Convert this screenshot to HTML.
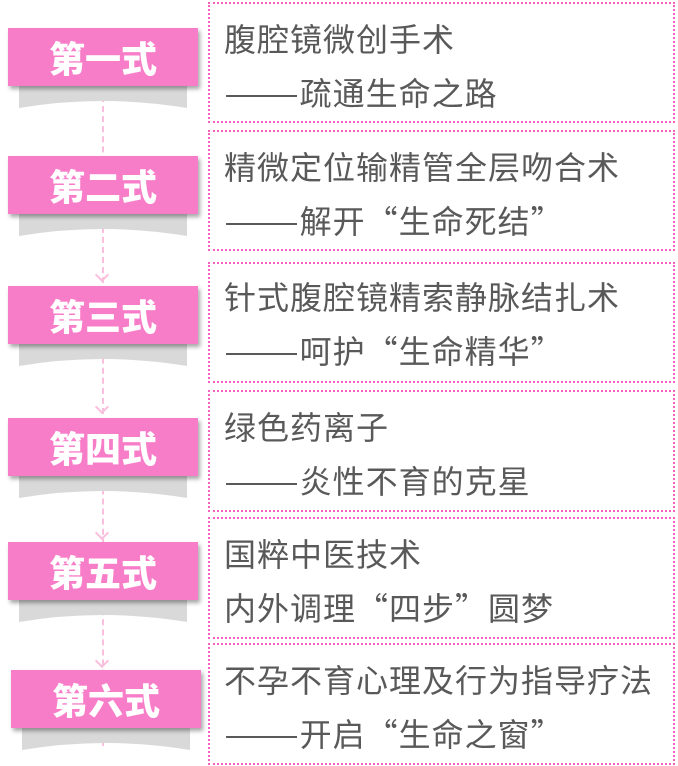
<!DOCTYPE html>
<html><head><meta charset="utf-8"><style>
body{margin:0;width:678px;height:766px;background:#fff;position:relative;overflow:hidden;font-family:"Liberation Sans","Noto Sans CJK SC",sans-serif}
.box{position:absolute;left:208px;width:467px;border:2px dotted #f55fc0;box-sizing:border-box}
.box div{position:absolute;left:14px;font-size:32px;color:#595959;white-space:nowrap;line-height:36px;font-family:"WenQuanYi Zen Hei","Noto Sans CJK SC",sans-serif;letter-spacing:1px}
.d{display:inline-block;transform:scaleX(1.4);transform-origin:left;margin-right:21px}
.lab{position:absolute;width:190px;height:58px;background:#f87dc8;box-shadow:2px 3px 4px rgba(0,0,0,.35);color:#fff;font-weight:900;font-size:36px;text-align:center;line-height:58px;z-index:2;font-family:"Noto Sans CJK SC",sans-serif}
.rib{position:absolute;width:168px;height:22px;background:#d9d9d9;clip-path:path('M0 0 H168 V22 Q84 8 0 22 Z');z-index:1}
.line{position:absolute;left:102px;width:0;border-left:2px dashed #f9bfdd;z-index:0}
.arr{position:absolute;left:97px;width:8px;height:8px;border-right:2px solid #f9bfdd;border-bottom:2px solid #f9bfdd;transform:rotate(45deg);z-index:0}
</style></head><body>
<div class="line" style="top:86px;height:660px"></div>
<div class="arr" style="top:270px"></div><div class="arr" style="top:402px"></div><div class="arr" style="top:528px"></div><div class="arr" style="top:656px"></div>

<div class="box" style="top:2px;height:121px"><div style="top:16px">腹腔镜微创手术</div><div style="top:70px"><span class="d">——</span>疏通生命之路</div></div>
<div class="box" style="top:130px;height:121px"><div style="top:16px">精微定位输精管全层吻合术</div><div style="top:70px"><span class="d">——</span>解开“生命死结”</div></div>
<div class="box" style="top:262px;height:121px"><div style="top:14px">针式腹腔镜精索静脉结扎术</div><div style="top:68px"><span class="d">——</span>呵护“生命精华”</div></div>
<div class="box" style="top:390px;height:122px"><div style="top:16px">绿色药离子</div><div style="top:70px"><span class="d">——</span>炎性不育的克星</div></div>
<div class="box" style="top:517px;height:122px"><div style="top:16px">国粹中医技术</div><div style="top:70px">内外调理“四步”圆梦</div></div>
<div class="box" style="top:643px;height:122px"><div style="top:16px">不孕不育心理及行为指导疗法</div><div style="top:70px"><span class="d">——</span>开启“生命之窗”</div></div>

<div class="lab" style="left:8px;top:28px">第一式</div><div class="rib" style="left:19px;top:86px"></div>
<div class="lab" style="left:8px;top:156px">第二式</div><div class="rib" style="left:19px;top:214px"></div>
<div class="lab" style="left:8px;top:286px">第三式</div><div class="rib" style="left:19px;top:344px"></div>
<div class="lab" style="left:8px;top:418px">第四式</div><div class="rib" style="left:19px;top:476px"></div>
<div class="lab" style="left:8px;top:542px">第五式</div><div class="rib" style="left:19px;top:600px"></div>
<div class="lab" style="left:11px;top:670px">第六式</div><div class="rib" style="left:22px;top:728px"></div>
</body></html>
